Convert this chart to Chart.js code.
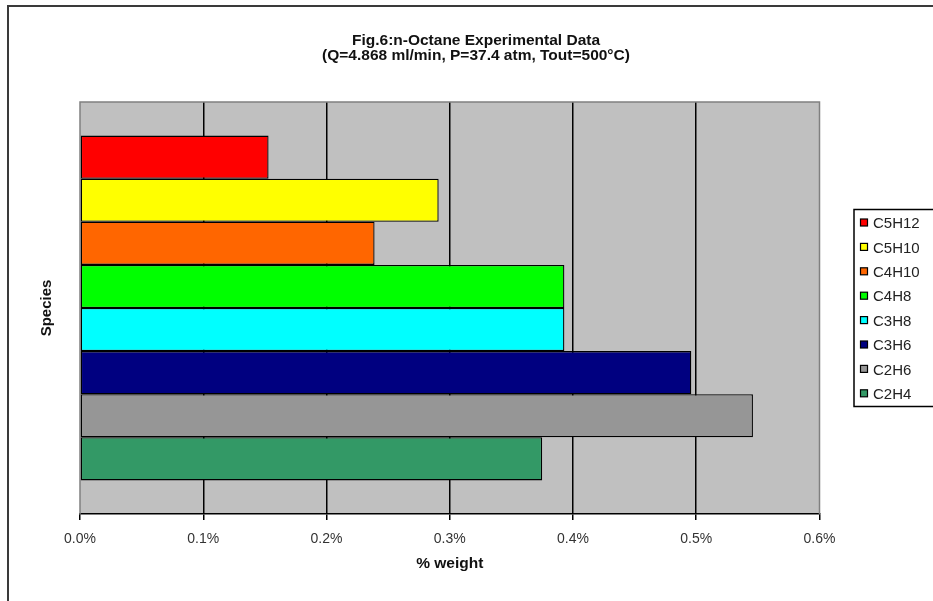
<!DOCTYPE html>
<html>
<head>
<meta charset="utf-8">
<script src="https://cdn.jsdelivr.net/npm/chart.js@4/dist/chart.umd.min.js"></script>
<style>
  html, body { margin: 0; padding: 0; background: #ffffff; overflow: hidden; }
  #wrap { position: relative; width: 933px; height: 601px; }
</style>
</head>
<body>
<div id="wrap"><canvas id="chart"></canvas></div>
<script>
// Species measured in the n-octane run and their yields (% weight)
const species   = ['C5H12', 'C5H10', 'C4H10', 'C4H8', 'C3H8', 'C3H6', 'C2H6', 'C2H4'];
const weightPct = [0.153, 0.291, 0.239, 0.393, 0.393, 0.496, 0.546, 0.375];
const barColors = ['#FF0000', '#FFFF00', '#FF6600', '#00FF00', '#00FFFF', '#000080', '#969696', '#339966'];
const categories = [''];
const xMin = 0, xMax = 0.6, xStep = 0.1;
const titleLines = ['Fig.6:n-Octane Experimental Data', '(Q=4.868 ml/min, P=37.4 atm, Tout=500\u00B0C)'];
const xTitle = '% weight';
const yTitle = 'Species';

const FONT = '"Liberation Sans", Arial, Helvetica, sans-serif';

const datasets = species.map((name, i) => ({
  label: name,
  data: [weightPct[i]],
  backgroundColor: barColors[i],
  borderColor: '#000000',
  borderWidth: 1.3,
  borderSkipped: false,
  categoryPercentage: 0.837,
  barPercentage: 1.0
}));

// Page frame, grey plot area, plot border, title and boxed legend
const decor = {
  id: 'decor',
  beforeDraw(chart) {
    const { ctx, chartArea: a } = chart;
    ctx.save();
    ctx.fillStyle = '#ffffff';
    ctx.fillRect(0, 0, chart.width, chart.height);
    // outer frame (only left and top edges fall inside the page)
    ctx.strokeStyle = '#3a3a3a';
    ctx.lineWidth = 2;
    ctx.beginPath();
    ctx.moveTo(8, chart.height + 5);
    ctx.lineTo(8, 6);
    ctx.lineTo(chart.width + 5, 6);
    ctx.stroke();
    // plot area
    ctx.fillStyle = '#C0C0C0';
    ctx.fillRect(a.left, a.top, a.right - a.left, a.bottom - a.top);
    ctx.restore();
  },
  beforeDatasetsDraw(chart) {
    const { ctx, chartArea: a } = chart;
    ctx.save();
    ctx.strokeStyle = '#808080';
    ctx.lineWidth = 1.5;
    ctx.beginPath();
    ctx.moveTo(a.left, a.bottom);
    ctx.lineTo(a.left, a.top);
    ctx.lineTo(a.right, a.top);
    ctx.lineTo(a.right, a.bottom);
    ctx.stroke();
    ctx.restore();
  },
  afterDraw(chart) {
    const { ctx } = chart;
    ctx.save();
    // title
    ctx.fillStyle = '#111111';
    ctx.font = 'bold 15.5px ' + FONT;
    ctx.textAlign = 'center';
    ctx.textBaseline = 'alphabetic';
    ctx.fillText(titleLines[0], 476, 45);
    ctx.fillText(titleLines[1], 476, 60);

    // legend
    const lx = 854, ly = 209.5, lh = 197;
    ctx.strokeStyle = '#000000';
    ctx.lineWidth = 1.5;
    ctx.strokeRect(lx, ly, chart.width + 10 - lx, lh);
    ctx.font = '15px ' + FONT;
    ctx.textAlign = 'left';
    ctx.textBaseline = 'middle';
    chart.data.datasets.forEach((ds, i) => {
      const cy = 223.5 + i * 24.4;
      ctx.fillStyle = ds.backgroundColor;
      ctx.fillRect(860.5, cy - 4.5, 7, 7);
      ctx.strokeStyle = '#000000';
      ctx.lineWidth = 1.2;
      ctx.strokeRect(860.5, cy - 4.5, 7, 7);
      ctx.fillStyle = '#222222';
      ctx.fillText(ds.label, 873, cy + 0.5);
    });
    ctx.restore();
  }
};

new Chart(document.getElementById('chart'), {
  type: 'bar',
  data: { labels: categories, datasets },
  options: {
    indexAxis: 'y',
    responsive: true,
    maintainAspectRatio: false,
    animation: false,
    layout: { padding: { top: 102, right: 113.5, left: 0, bottom: 0 } },
    plugins: {
      legend: { display: false },
      title: { display: false },
      tooltip: { enabled: false }
    },
    scales: {
      x: {
        type: 'linear',
        position: 'bottom',
        min: xMin,
        max: xMax,
        ticks: {
          stepSize: xStep,
          color: '#333333',
          font: { family: FONT, size: 14 },
          padding: 11,
          callback: v => v.toFixed(1) + '%'
        },
        grid: {
          display: true,
          drawOnChartArea: true,
          drawTicks: true,
          tickLength: 6,
          tickColor: '#000000',
          lineWidth: 1.5,
          color: c => (c.index === 0 || c.index === 6) ? 'rgba(0,0,0,0)' : '#000000'
        },
        border: { display: true, color: '#000000', width: 1.5 },
        title: {
          display: true,
          text: xTitle,
          color: '#111111',
          font: { family: FONT, size: 15.5, weight: 'bold' },
          padding: { top: 0, bottom: 28 }
        },
        afterFit: s => { s.height = 87; }
      },
      y: {
        type: 'category',
        offset: true,
        ticks: { display: false },
        grid: { display: false, drawTicks: false },
        border: { display: false },
        title: {
          display: true,
          text: yTitle,
          color: '#111111',
          font: { family: FONT, size: 15, weight: 'bold' },
          padding: { top: 38, bottom: 0 }
        },
        afterFit: s => { s.width = 80; }
      }
    }
  },
  plugins: [decor]
});
</script>
</body>
</html>
